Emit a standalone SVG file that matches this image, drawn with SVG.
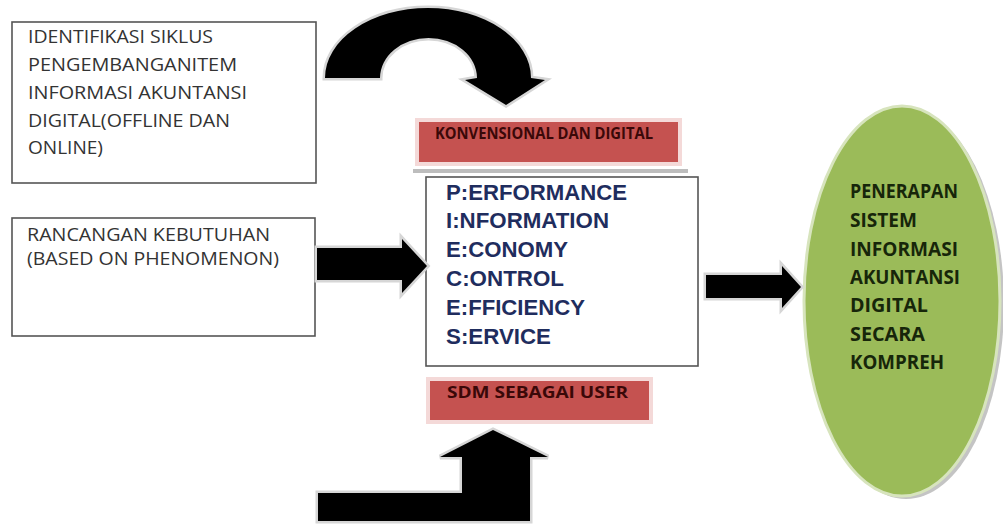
<svg xmlns="http://www.w3.org/2000/svg" width="1003" height="528" viewBox="0 0 1003 528">
<style>
.box{fill:#fff;stroke:#555;stroke-width:1.6}
.t1{font-family:"Open Sans","Noto Sans",sans-serif;font-size:19px;fill:#333}
.tc{font-family:"Liberation Sans",Arial,sans-serif;font-weight:bold;font-size:22px;fill:#1f2d5e}
.tr{font-family:"Open Sans","Noto Sans",sans-serif;font-weight:bold;font-size:16px;fill:#3a0808}
.te{font-family:"Open Sans","Noto Sans",sans-serif;font-weight:bold;font-size:19px;fill:#17260a}
.red{fill:#c55250;stroke:#f4d9d8;stroke-width:4}
.shadow{fill:#bdbdbd}
.arrow{fill:#000;stroke:#d6d6d6;stroke-width:5;paint-order:stroke;stroke-linejoin:miter}
</style>
<rect width="1003" height="528" fill="#fff"/>

<g id="node-identifikasi">
<rect class="box" x="12" y="22" width="304" height="161"/>
<text class="t1" x="28" y="43" textLength="185" lengthAdjust="spacingAndGlyphs">IDENTIFIKASI SIKLUS</text>
<text class="t1" x="28" y="71" textLength="209" lengthAdjust="spacingAndGlyphs">PENGEMBANGANITEM</text>
<text class="t1" x="28" y="99" textLength="219" lengthAdjust="spacingAndGlyphs">INFORMASI AKUNTANSI</text>
<text class="t1" x="28" y="127" textLength="202" lengthAdjust="spacingAndGlyphs">DIGITAL(OFFLINE DAN</text>
<text class="t1" x="28" y="154" textLength="75" lengthAdjust="spacingAndGlyphs">ONLINE)</text>
</g>

<g id="node-rancangan">
<rect class="box" x="12" y="218" width="303" height="118"/>
<text class="t1" x="27" y="241" font-size="18" textLength="243" lengthAdjust="spacingAndGlyphs">RANCANGAN KEBUTUHAN</text>
<text class="t1" x="27" y="265" font-size="18" textLength="252" lengthAdjust="spacingAndGlyphs">(BASED ON PHENOMENON)</text>
</g>

<g id="node-konvensional">
<rect class="shadow" x="413" y="169" width="275" height="4"/>
<rect class="red" x="417" y="120" width="263" height="44"/>
<text class="tr" x="435" y="139" textLength="218" lengthAdjust="spacingAndGlyphs">KONVENSIONAL DAN DIGITAL</text>
</g>

<g id="node-piecies">
<rect class="box" x="426" y="177" width="272" height="189"/>
<text class="tc" x="446" y="200" textLength="181" lengthAdjust="spacingAndGlyphs">P:ERFORMANCE</text>
<text class="tc" x="446" y="228" textLength="163" lengthAdjust="spacingAndGlyphs">I:NFORMATION</text>
<text class="tc" x="446" y="257" textLength="122" lengthAdjust="spacingAndGlyphs">E:CONOMY</text>
<text class="tc" x="446" y="286" textLength="118" lengthAdjust="spacingAndGlyphs">C:ONTROL</text>
<text class="tc" x="446" y="315" textLength="139" lengthAdjust="spacingAndGlyphs">E:FFICIENCY</text>
<text class="tc" x="446" y="344" textLength="105" lengthAdjust="spacingAndGlyphs">S:ERVICE</text>
</g>

<g id="node-sdm">
<rect class="red" x="428" y="379" width="223" height="43"/>
<text class="tr" x="447" y="398" font-size="17" textLength="181" lengthAdjust="spacingAndGlyphs">SDM SEBAGAI USER</text>
</g>

<g id="node-penerapan">
<ellipse cx="906" cy="304" rx="98" ry="195" fill="#c4c4c4"/>
<ellipse cx="902" cy="301" rx="98" ry="195" fill="#9bbb59" stroke="#d7e4bd" stroke-width="3"/>
<text class="te" x="850" y="198" textLength="108" lengthAdjust="spacingAndGlyphs">PENERAPAN</text>
<text class="te" x="850" y="227" textLength="67" lengthAdjust="spacingAndGlyphs">SISTEM</text>
<text class="te" x="850" y="256" textLength="108" lengthAdjust="spacingAndGlyphs">INFORMASI</text>
<text class="te" x="850" y="284" textLength="110" lengthAdjust="spacingAndGlyphs">AKUNTANSI</text>
<text class="te" x="850" y="312" textLength="78" lengthAdjust="spacingAndGlyphs">DIGITAL</text>
<text class="te" x="850" y="341" textLength="75" lengthAdjust="spacingAndGlyphs">SECARA</text>
<text class="te" x="850" y="369" textLength="94" lengthAdjust="spacingAndGlyphs">KOMPREH</text>
</g>

<g id="connectors">
<path class="arrow" d="M325,78 A103,70 0 0 1 531,78 L545,80 L506,105 L465,80 L477,78 A48.5,40 0 0 0 380,78 Z"/>
<path class="arrow" d="M317,248 L402,248 L402,239 L427,266 L402,293 L402,280 L317,280 Z"/>
<path class="arrow" d="M706,275 L782,275 L782,266 L801,287 L782,308 L782,298 L706,298 Z"/>
<path class="arrow" d="M318,493 L462,493 L462,457 L440,457 L493,430 L548,457 L530,457 L530,521 L318,521 Z"/>
</g>
</svg>
